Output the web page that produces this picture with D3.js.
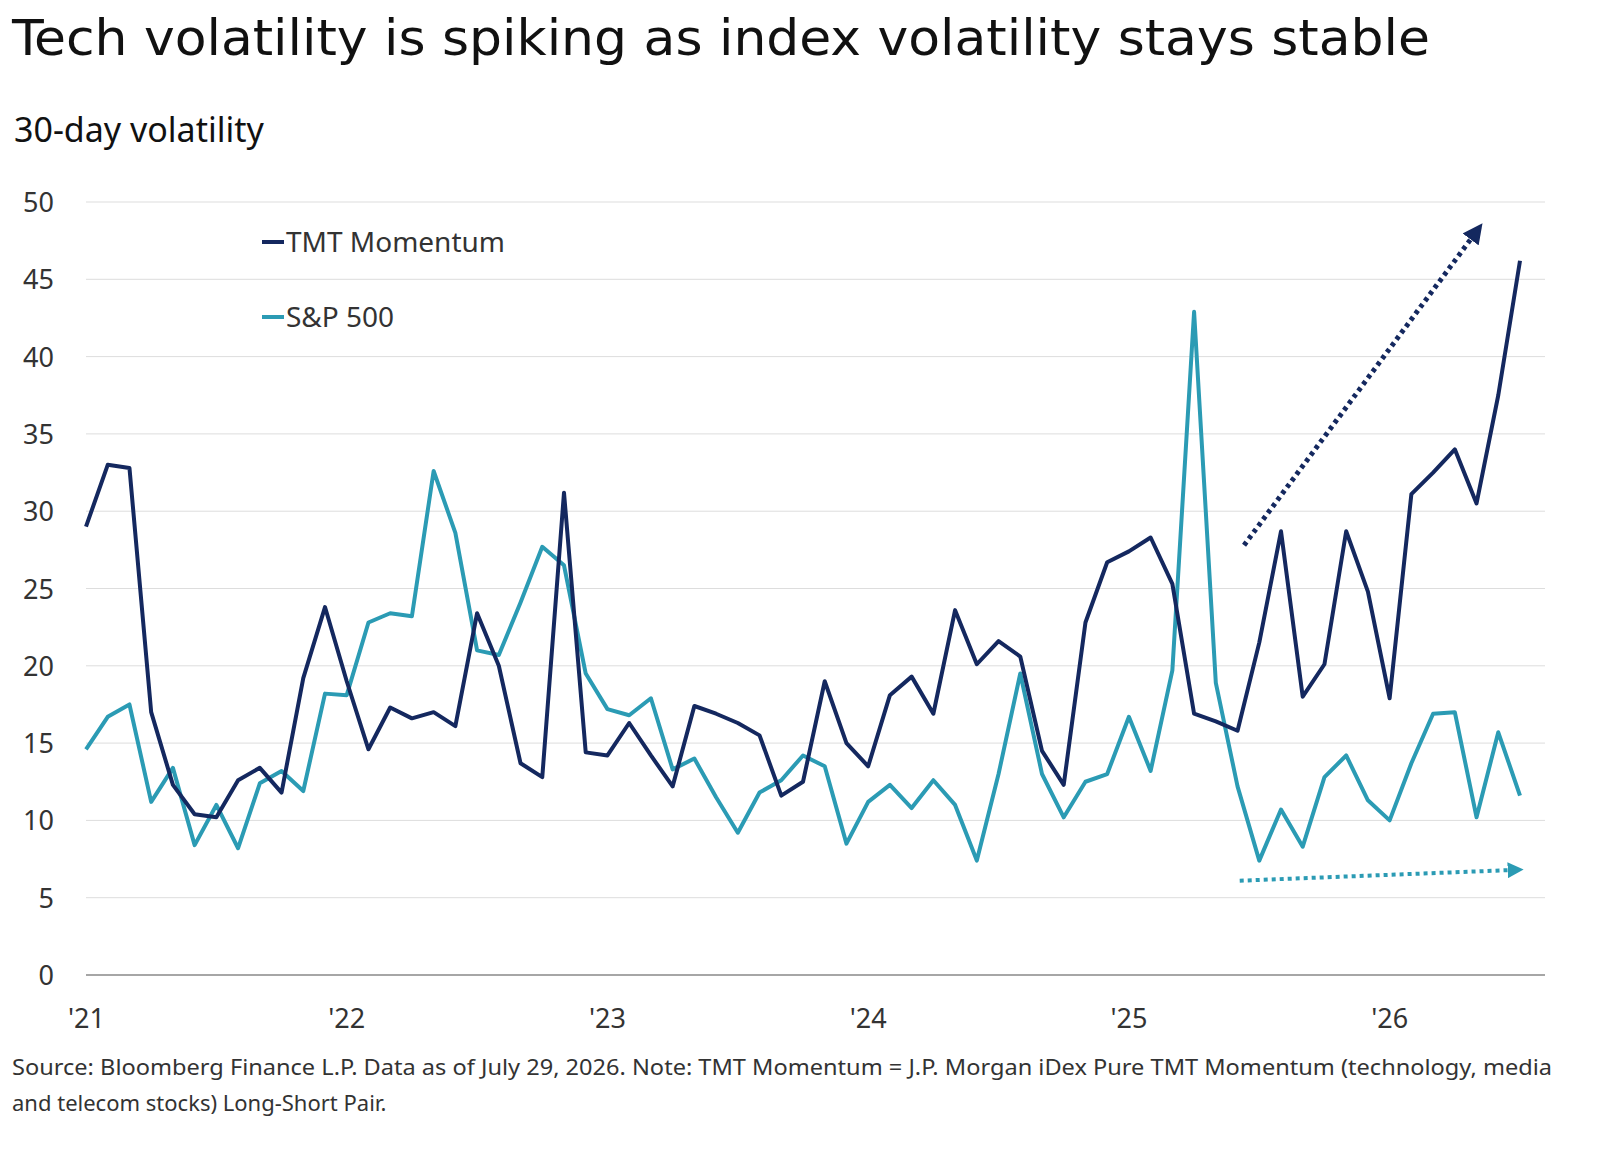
<!DOCTYPE html>
<html><head><meta charset="utf-8">
<script src="https://cdn.jsdelivr.net/npm/d3@7"></script>
<style>body{margin:0;background:#fff}</style>
</head><body>
<script>
// monthly points, Jan 2021 .. Jul 2026
const tmt = [29,33,32.8,17,12.3,10.4,10.2,12.6,13.4,11.8,19.2,23.8,
  19,14.6,17.3,16.6,17,16.1,23.4,20,13.7,12.8,31.2,14.4,
  14.2,16.3,14.2,12.2,17.4,16.9,16.3,15.5,11.6,12.5,19,15,
  13.5,18.1,19.3,16.9,23.6,20.1,21.6,20.6,14.5,12.3,22.8,26.7,
  27.4,28.3,25.3,16.9,16.4,15.8,21.5,28.7,18,20.1,28.7,24.8,
  17.9,31.1,32.5,34,30.5,37.5,46.2];
const spx = [14.6,16.7,17.5,11.2,13.4,8.4,11,8.2,12.4,13.2,11.9,18.2,
  18.1,22.8,23.4,23.2,32.6,28.6,21,20.7,24.1,27.7,26.5,19.5,
  17.2,16.8,17.9,13.3,14,11.5,9.2,11.8,12.6,14.2,13.5,8.5,
  11.2,12.3,10.8,12.6,11,7.4,13,19.5,13,10.2,12.5,13,
  16.7,13.2,19.7,42.9,18.9,12.2,7.4,10.7,8.3,12.8,14.2,11.3,
  10,13.7,16.9,17,10.2,15.7,11.6];
const yearLabels = ["'21","'22","'23","'24","'25","'26"];
const yTicks = [0,5,10,15,20,25,30,35,40,45,50];
const trendTmt = [[53.3,27.8],[64,48.1]];
const trendSpx = [[53.1,6.1],[65.8,6.8]];

const W=1600,H=1149, navy="#14285f", teal="#2b9bb4";
const font="'Noto Sans', sans-serif";
const svg=d3.select("body").append("svg").attr("width",W).attr("height",H);
const x=d3.scaleLinear().domain([0,66]).range([86,1520]);
const y=d3.scaleLinear().domain([0,50]).range([975,202]);

svg.append("text").attr("x",12).attr("y",55).text("Tech volatility is spiking as index volatility stays stable")
  .style("font-family","'DejaVu Sans Condensed','Noto Sans',sans-serif").style("font-size","50px").attr("fill","#111")
  .attr("textLength",1418).attr("lengthAdjust","spacingAndGlyphs");
svg.append("text").attr("x",14).attr("y",142).text("30-day volatility")
  .style("font-family",font).style("font-size","34px").attr("fill","#111");

svg.append("g").selectAll("line").data(yTicks).join("line")
  .attr("x1",86).attr("x2",1545).attr("y1",d=>y(d)).attr("y2",d=>y(d))
  .attr("stroke",d=>d===0?"#888":"#ddd").attr("stroke-width",d=>d===0?1.5:1);
svg.append("g").selectAll("text").data(yTicks).join("text")
  .attr("x",54).attr("y",d=>y(d)+10).attr("text-anchor","end").text(d=>d)
  .style("font-family",font).style("font-size","27px").attr("fill","#333");
svg.append("g").selectAll("text").data(yearLabels).join("text")
  .attr("x",(d,i)=>x(i*12)).attr("y",1028).attr("text-anchor",(d,i)=>i===0?"start":"middle")
  .attr("dx",(d,i)=>i===0?-18:0).text(d=>d)
  .style("font-family",font).style("font-size","27px").attr("fill","#333");

const line=d3.line().x((d,i)=>x(i)).y(d=>y(d));
svg.append("path").datum(spx).attr("d",line).attr("fill","none").attr("stroke",teal).attr("stroke-width",4).attr("stroke-linejoin","round");
svg.append("path").datum(tmt).attr("d",line).attr("fill","none").attr("stroke",navy).attr("stroke-width",4).attr("stroke-linejoin","round");

const defs=svg.append("defs");
[["an",navy],["at",teal]].forEach(([id,c])=>defs.append("marker").attr("id",id).attr("viewBox","0 0 10 10")
  .attr("refX",5).attr("refY",5).attr("markerWidth",4).attr("markerHeight",4).attr("orient","auto")
  .append("path").attr("d","M0,0L10,5L0,10z").attr("fill",c));
const tl=d3.line().x(d=>x(d[0])).y(d=>y(d[1]));
svg.append("path").attr("d",tl(trendTmt)).attr("stroke",navy).attr("stroke-width",5).attr("stroke-dasharray","4,4").attr("fill","none").attr("marker-end","url(#an)");
svg.append("path").attr("d",tl(trendSpx)).attr("stroke",teal).attr("stroke-width",4).attr("stroke-dasharray","4,4").attr("fill","none").attr("marker-end","url(#at)");

[["TMT Momentum",navy,242],["S&P 500",teal,317]].forEach(([t,c,yy])=>{
  svg.append("line").attr("x1",262).attr("x2",284).attr("y1",yy).attr("y2",yy).attr("stroke",c).attr("stroke-width",4);
  svg.append("text").attr("x",286).attr("y",yy+10).text(t).style("font-family",font).style("font-size","28px").attr("fill","#333");
});

svg.append("text").style("font-family",font).style("font-size","22px").attr("fill","#333")
  .selectAll("tspan").data(["Source: Bloomberg Finance L.P. Data as of July 29, 2026. Note: TMT Momentum = J.P. Morgan iDex Pure TMT Momentum (technology, media","and telecom stocks) Long-Short Pair."])
  .join("tspan").attr("x",12).attr("y",(d,i)=>1075+i*36).text(d=>d)
  .attr("textLength",(d,i)=>i===0?1540:null).attr("lengthAdjust","spacingAndGlyphs");
</script>
</body></html>
